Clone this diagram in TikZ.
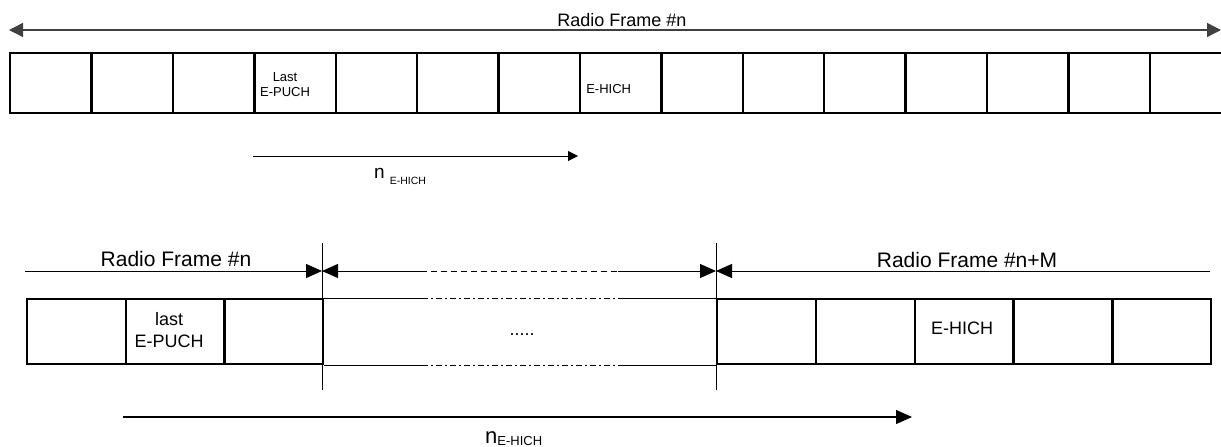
\documentclass[tikz,border=0pt]{standalone}
\usepackage{fontspec}
\setmainfont{Liberation Sans}
\usetikzlibrary{arrows.meta,positioning,calc}

\begin{document}
\begin{tikzpicture}[x=1pt,y=-1pt,
  cell/.style={draw,line width=2.3pt,inner sep=0pt,anchor=north west,minimum height=60pt,minimum width=81.4pt},
  bcell/.style={cell,minimum height=65pt,minimum width=98.7pt},
  lbl/.style={inner sep=0pt,align=center,font=\fontsize{13}{15}\selectfont},
  blbl/.style={inner sep=0pt,align=center,font=\fontsize{18}{22}\selectfont},
  ttl/.style={inner sep=0pt,anchor=base},
  thin/.style={line width=1pt},
  frm/.style={thin,>={Triangle[length=16pt,width=14pt]}},
  dashdot/.style={dash pattern=on 6pt off 3pt on 2pt off 3pt}]
\clip (0,0) rectangle (1221,447);
% top radio frame
\coordinate (t0) at (9,30);
\coordinate (t1) at (1221,30);
\draw[black!75,line width=1.3pt,{Triangle[length=14pt,width=14pt]}-{Triangle[length=14pt,width=14pt]}] (t0) -- (t1);
\node[ttl,font=\fontsize{18}{20}\selectfont] (ttop) at (622,26) {Radio Frame \#n};
\foreach \i in {1,...,15}
  \node[cell] (c\i) at ({9+(\i-1)*81.4},52) {};
\node[lbl] (lpt) at ([xshift=-10pt,yshift=-1pt]c4.center) {Last\\E-PUCH};
\node[lbl] (hit) at ([xshift=-12pt,yshift=-6pt]c8.center) {E-HICH};
% offset, top
\coordinate (n0) at (253,156);
\coordinate (n1) at (578,156);
\draw[line width=1pt,-{Triangle[length=10pt,width=10pt]}] (n0) -- (n1);
\node[inner sep=0pt,anchor=base west] (ntop) at (374,178)
  {\fontsize{19}{20}\selectfont n\hspace{5pt}\raisebox{-6pt}{\fontsize{10.5}{12}\selectfont E-HICH}};
% bottom frames
\foreach \i in {1,2,3}
  \node[bcell] (l\i) at ({26+(\i-1)*98.67},298) {};
\foreach \i in {1,...,5}
  \node[bcell,minimum width=98.8pt] (r\i) at ({716+(\i-1)*98.8},298) {};
\node[blbl] (lpb) at ([xshift=-6pt,yshift=2pt]l2.center) {last\\E-PUCH};
\node[blbl] (hib) at ([xshift=-2pt,yshift=3pt]r3.center) {E-HICH};
\node[blbl] (dots) at (522,335) {.....};
% gap between frames
\draw[thin] (l3.north east) -- ($(l3.north east)!0.25!(r1.north west)$);
\draw[thin,dashdot] ($(l3.north east)!0.25!(r1.north west)$) -- ($(l3.north east)!0.75!(r1.north west)$);
\draw[thin] ($(l3.north east)!0.75!(r1.north west)$) -- (r1.north west);
\draw[thin] (l3.south east) -- ($(l3.south east)!0.25!(r1.south west)$);
\draw[thin,dashdot] ($(l3.south east)!0.25!(r1.south west)$) -- ($(l3.south east)!0.75!(r1.south west)$);
\draw[thin] ($(l3.south east)!0.75!(r1.south west)$) -- (r1.south west);
\coordinate (v1t) at (322,243);
\coordinate (v1b) at (322,390);
\coordinate (v2t) at (716,243);
\coordinate (v2b) at (716,390);
\draw[thin] (v1t) -- (v1b);
\draw[thin] (v2t) -- (v2b);
% frame arrows
\coordinate (a0) at (25,271);
\coordinate (a1) at (322,271);
\coordinate (a2) at (716,271);
\coordinate (a3) at (1210,271);
\draw[frm,->] (a0) -- (a1);
\draw[frm,<-] (a1) -- ($(a1)!0.25!(a2)$);
\draw[frm,dash pattern=on 6pt off 4pt] ($(a1)!0.25!(a2)$) -- ($(a1)!0.75!(a2)$);
\draw[frm,->] ($(a1)!0.75!(a2)$) -- (a2);
\draw[frm,<-] (a2) -- (a3);
\node[ttl,font=\fontsize{21}{23}\selectfont] (tbl) at (176,266) {Radio Frame \#n};
\node[ttl,font=\fontsize{21}{23}\selectfont] (tbr) at (967,267) {Radio Frame \#n+M};
% offset, bottom
\coordinate (m0) at (123,417);
\coordinate (m1) at (912,417);
\draw[line width=1.1pt,-{Triangle[length=16pt,width=14pt]}] (m0) -- (m1);
\node[inner sep=0pt,anchor=base west] (nbot) at (485,443)
  {\fontsize{22}{24}\selectfont n\raisebox{-2pt}{\fontsize{13}{14}\selectfont E-HICH}};
\end{tikzpicture}
\end{document}
